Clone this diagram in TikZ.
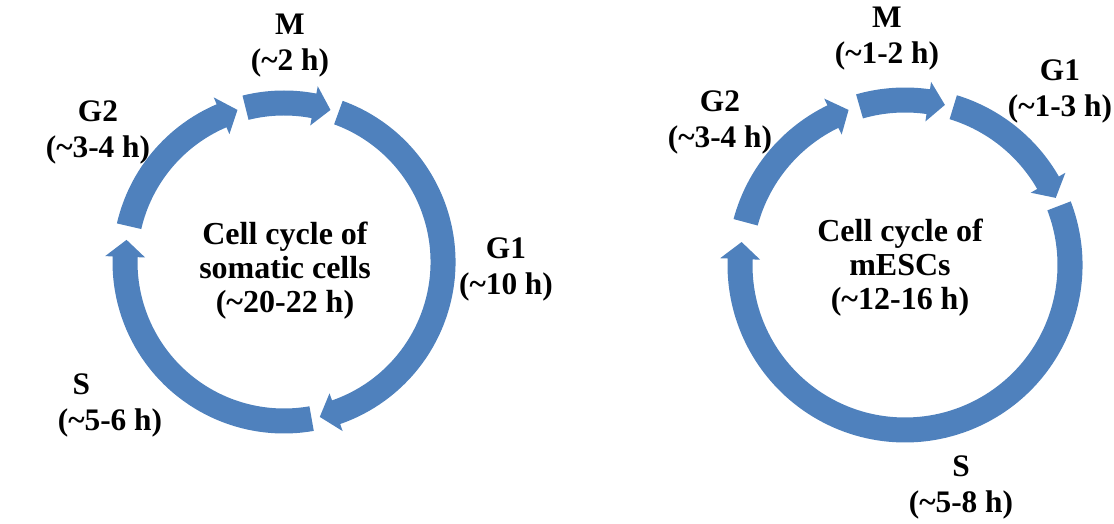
\documentclass[tikz,border=0pt]{standalone}
\usepackage{fontspec}
\setmainfont{Liberation Serif}
\definecolor{cycblue}{RGB}{79,129,189}
\newcommand\apx{\textasciitilde}
% half width of the band, half width of the arrow head, head length
\def\bandhw{12.5}
\def\headhw{20}
\def\headlen{17}
% #1,#2 centre, #3 mid radius, #4 start angle, #5 end angle (clockwise)
\newcommand\cycarc[5]{%
  \begin{scope}[shift={(#1,#2)}]
    \pgfmathsetmacro\cro{#3+\bandhw}
    \pgfmathsetmacro\cri{#3-\bandhw}
    \pgfmathsetmacro\cfo{#3+\headhw}
    \pgfmathsetmacro\cfi{#3-\headhw}
    \pgfmathsetmacro\chb{#5+\headlen/#3*57.2958}
    \fill[cycblue] (#4:\cro) arc[start angle=#4, end angle=\chb, radius=\cro]
      -- (\chb:\cfo) -- (#5:#3) -- (\chb:\cfi) -- (\chb:\cri)
      arc[start angle=\chb, end angle=#4, radius=\cri] -- cycle;
  \end{scope}}
\tikzset{
  lab/.style={align=center, font=\fontsize{23.5}{27}\selectfont\bfseries, inner sep=0pt},
  mid/.style={align=center, font=\fontsize{24}{25.5}\selectfont\bfseries, inner sep=0pt}
}
\begin{document}
\begin{tikzpicture}[x=0.75pt, y=0.75pt]
  \useasboundingbox (0,0) rectangle (1114,524);
  % somatic cells
  \cycarc{284}{262}{159}{104}{73}
  \cycarc{284}{262}{159}{70}{-77}
  \cycarc{284}{262}{159}{-80}{-188}
  \cycarc{284}{262}{159}{167}{107}
  \node[lab] (lM)  at (290,478) {M\\(\apx2 h)};
  \node[lab] (lG2) at (98,392)  {G2\\(\apx3-4 h)};
  \node[lab] (lG1) at (506,255) {G1\\(\apx10 h)};
  \node[lab, align=left] (lS) at (110,119) {\hspace*{11pt}S\\(\apx5-6 h)};
  \node[mid] (lC)  at (285,253) {Cell cycle of\\somatic cells\\(\apx20-22 h)};
  % mESCs
  \cycarc{905}{259}{165}{106}{76}
  \cycarc{905}{259}{165}{73}{24}
  \cycarc{905}{259}{165}{21}{-188}
  \cycarc{905}{259}{165}{165}{110}
  \node[lab] (rM)  at (887,485) {M\\(\apx1-2 h)};
  \node[lab] (rG1) at (1060,433) {G1\\(\apx1-3 h)};
  \node[lab] (rG2) at (720,402) {G2\\(\apx3-4 h)};
  \node[mid] (rC)  at (900,256) {Cell cycle of\\mESCs\\(\apx12-16 h)};
  \node[lab] (rS)  at (961,37)  {S\\(\apx5-8 h)};
\end{tikzpicture}
\end{document}
